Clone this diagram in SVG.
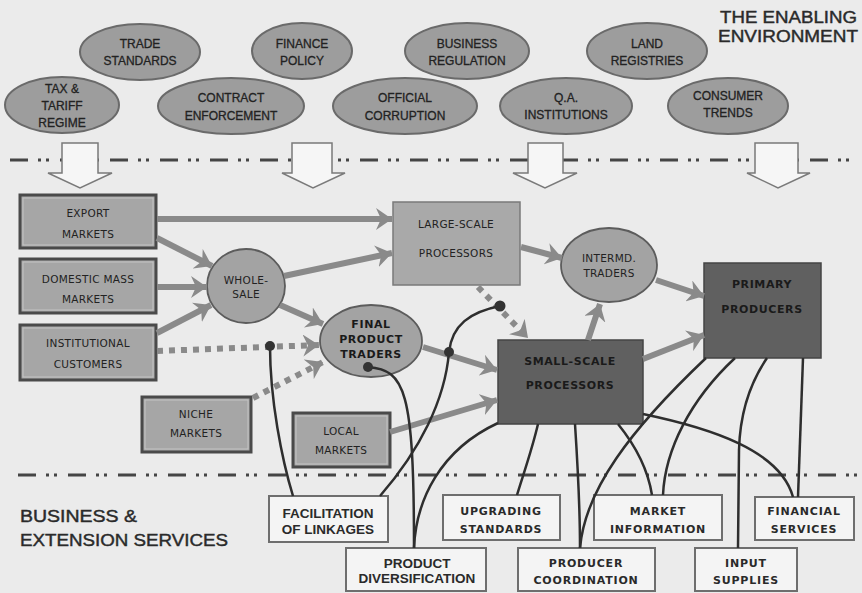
<svg xmlns="http://www.w3.org/2000/svg" width="862" height="593" viewBox="0 0 862 593">
<defs>
<marker id="ah" markerUnits="userSpaceOnUse" markerWidth="18" markerHeight="22" refX="16" refY="11" orient="auto" viewBox="0 0 18 22">
<path d="M0,0 L16,11 L0,22 L5,11 Z" fill="#8a8a8a"/>
</marker>
<style>
.sep{stroke:#454545;stroke-width:3;fill:none;stroke-dasharray:18 10 3 5 3 11}
.hollow{fill:#f6f6f6;stroke:#7a7a7a;stroke-width:1.5}
.env{fill:#9d9d9d;stroke:#6a6a6a;stroke-width:2}
.envt{font-family:"Liberation Sans",Arial,sans-serif;font-size:12px;fill:#222;stroke:#222;stroke-width:0.3;text-anchor:middle}
.mk{fill:#a6a6a6;stroke:#4a4a4a;stroke-width:3}
.mki{fill:none;stroke:#c4c4c4;stroke-width:1}
.lt{font-family:"DejaVu Sans",Verdana,sans-serif;font-size:10.5px;fill:#222;text-anchor:middle;letter-spacing:0.3px}
.bt{font-family:"DejaVu Sans",Verdana,sans-serif;font-size:11px;font-weight:bold;fill:#1a1a1a;text-anchor:middle;letter-spacing:0.6px}
.oval{fill:#a3a3a3;stroke:#5c5c5c;stroke-width:1.8}
.dark{fill:#606060;stroke:#444;stroke-width:1.5}
.svc{fill:#f4f4f4;stroke:#6e6e6e;stroke-width:2}
.sa{font-family:"Liberation Sans",Arial,sans-serif;font-size:13.5px;font-weight:bold;fill:#2a2a2a;text-anchor:middle}
.sv{font-family:"DejaVu Sans",Verdana,sans-serif;font-size:11px;font-weight:bold;fill:#2a2a2a;text-anchor:middle;letter-spacing:0.8px}
.thick{stroke:#8a8a8a;stroke-width:6;fill:none;marker-end:url(#ah)}
.dot{stroke:#8a8a8a;stroke-width:6;fill:none;stroke-dasharray:6 6;marker-end:url(#ah)}
.thin{stroke:#2e2e2e;stroke-width:2.5;fill:none}
.jn{fill:#333}
.title{font-family:"Liberation Sans",Arial,sans-serif;font-size:16px;fill:#2a2a2a;stroke:#2a2a2a;stroke-width:0.4}
</style>
</defs>
<rect width="862" height="593" fill="#ebebeb"/>

<g id="separators">
<line class="sep" x1="10" y1="160" x2="852" y2="160"/>
<line class="sep" x1="18" y1="475" x2="862" y2="475"/>
</g>
<g id="enabling-arrows">
<path class="hollow" d="M62,143 L98,143 L98,173 L112,173 L80,188 L48,173 L62,173 Z"/>
<path class="hollow" d="M292,143 L332,143 L332,173 L345,173 L313,188 L282,173 L292,173 Z"/>
<path class="hollow" d="M528,143 L563,143 L563,173 L577,173 L545,188 L513,173 L528,173 Z"/>
<path class="hollow" d="M755,143 L798,143 L798,173 L810,173 L778,188 L747,173 L755,173 Z"/>
</g>

<g id="title">
<text class="title" x="720" y="23" textLength="137" lengthAdjust="spacingAndGlyphs">THE ENABLING</text>
<text class="title" x="718" y="42" textLength="140" lengthAdjust="spacingAndGlyphs">ENVIRONMENT</text>
</g>

<g id="trade-standards"><ellipse class="env" cx="140" cy="52" rx="60" ry="28"/><text class="envt" x="140" y="48">TRADE</text><text class="envt" x="140" y="65">STANDARDS</text></g>
<g id="tax-tariff"><ellipse class="env" cx="62" cy="105" rx="57" ry="28"/><text class="envt" x="62" y="93">TAX &amp;</text><text class="envt" x="62" y="110">TARIFF</text><text class="envt" x="62" y="127">REGIME</text></g>
<g id="finance-policy"><ellipse class="env" cx="302" cy="51" rx="50" ry="28"/><text class="envt" x="302" y="48">FINANCE</text><text class="envt" x="302" y="65">POLICY</text></g>
<g id="contract-enforcement"><ellipse class="env" cx="231" cy="106" rx="73" ry="28"/><text class="envt" x="231" y="102">CONTRACT</text><text class="envt" x="231" y="120">ENFORCEMENT</text></g>
<g id="business-regulation"><ellipse class="env" cx="467" cy="51" rx="62" ry="28"/><text class="envt" x="467" y="48">BUSINESS</text><text class="envt" x="467" y="65">REGULATION</text></g>
<g id="official-corruption"><ellipse class="env" cx="405" cy="106" rx="72" ry="28"/><text class="envt" x="405" y="102">OFFICIAL</text><text class="envt" x="405" y="120">CORRUPTION</text></g>
<g id="land-registries"><ellipse class="env" cx="647" cy="51" rx="60" ry="28"/><text class="envt" x="647" y="48">LAND</text><text class="envt" x="647" y="65">REGISTRIES</text></g>
<g id="qa-institutions"><ellipse class="env" cx="566" cy="106" rx="66" ry="28"/><text class="envt" x="566" y="102">Q.A.</text><text class="envt" x="566" y="119">INSTITUTIONS</text></g>
<g id="consumer-trends"><ellipse class="env" cx="728" cy="106" rx="60" ry="28"/><text class="envt" x="728" y="100">CONSUMER</text><text class="envt" x="728" y="117">TRENDS</text></g>

<g id="export-markets"><rect class="mk" x="20" y="195" width="136" height="53"/><rect class="mki" x="23" y="198" width="130" height="47"/><text class="lt" x="88" y="217">EXPORT</text><text class="lt" x="88" y="238">MARKETS</text></g>
<g id="domestic-mass-markets"><rect class="mk" x="20" y="259" width="136" height="54"/><rect class="mki" x="23" y="262" width="130" height="48"/><text class="lt" x="88" y="283">DOMESTIC MASS</text><text class="lt" x="88" y="303">MARKETS</text></g>
<g id="institutional-customers"><rect class="mk" x="20" y="325" width="136" height="55"/><rect class="mki" x="23" y="328" width="130" height="49"/><text class="lt" x="88" y="347">INSTITUTIONAL</text><text class="lt" x="88" y="368">CUSTOMERS</text></g>
<g id="niche-markets"><rect class="mk" x="142" y="397" width="109" height="55"/><rect class="mki" x="145" y="400" width="103" height="49"/><text class="lt" x="196" y="418">NICHE</text><text class="lt" x="196" y="437">MARKETS</text></g>
<g id="local-markets"><rect class="mk" x="293" y="413" width="97" height="54"/><rect class="mki" x="296" y="416" width="91" height="48"/><text class="lt" x="341" y="435">LOCAL</text><text class="lt" x="341" y="454">MARKETS</text></g>

<g id="wholesale"><ellipse class="oval" cx="246" cy="286" rx="39" ry="37"/><text class="lt" x="246" y="284">WHOLE-</text><text class="lt" x="246" y="298">SALE</text></g>
<g id="final-product-traders"><ellipse class="oval" cx="371" cy="341" rx="51" ry="36"/><text class="bt" x="371" y="328">FINAL</text><text class="bt" x="371" y="343">PRODUCT</text><text class="bt" x="371" y="358">TRADERS</text></g>
<g id="large-scale-processors"><rect x="393" y="202" width="127" height="83" fill="#a9a9a9" stroke="#7a7a7a" stroke-width="1.5"/><text class="lt" x="456" y="228">LARGE-SCALE</text><text class="lt" x="456" y="257">PROCESSORS</text></g>
<g id="intermd-traders"><ellipse class="oval" cx="609" cy="265" rx="48" ry="37"/><text class="lt" x="609" y="262">INTERMD.</text><text class="lt" x="609" y="277">TRADERS</text></g>
<g id="primary-producers"><rect class="dark" x="704" y="263" width="117" height="95"/><text class="bt" x="762" y="288">PRIMARY</text><text class="bt" x="762" y="313">PRODUCERS</text></g>
<g id="small-scale-processors"><rect class="dark" x="498" y="340" width="145" height="84"/><text class="bt" x="570" y="365">SMALL-SCALE</text><text class="bt" x="570" y="389">PROCESSORS</text></g>

<g id="facilitation-of-linkages"><rect class="svc" x="269" y="496" width="119" height="46"/><text class="sa" x="328" y="518">FACILITATION</text><text class="sa" x="328" y="534">OF LINKAGES</text></g>
<g id="product-diversification"><rect class="svc" x="346" y="548" width="140" height="43"/><text class="sa" x="417" y="568">PRODUCT</text><text class="sa" x="417" y="583">DIVERSIFICATION</text></g>
<g id="upgrading-standards"><rect class="svc" x="443" y="495" width="117" height="45"/><text class="sv" x="501" y="515">UPGRADING</text><text class="sv" x="501" y="533">STANDARDS</text></g>
<g id="producer-coordination"><rect class="svc" x="518" y="548" width="137" height="43"/><text class="sv" x="586" y="567">PRODUCER</text><text class="sv" x="586" y="584">COORDINATION</text></g>
<g id="market-information"><rect class="svc" x="594" y="495" width="128" height="45"/><text class="sv" x="658" y="515">MARKET</text><text class="sv" x="658" y="533">INFORMATION</text></g>
<g id="input-supplies"><rect class="svc" x="695" y="548" width="102" height="43"/><text class="sv" x="746" y="567">INPUT</text><text class="sv" x="746" y="584">SUPPLIES</text></g>
<g id="financial-services"><rect class="svc" x="755" y="497" width="99" height="43"/><text class="sv" x="804" y="515">FINANCIAL</text><text class="sv" x="804" y="533">SERVICES</text></g>

<g id="services-label">
<text class="title" x="20" y="522" textLength="117" lengthAdjust="spacingAndGlyphs">BUSINESS &amp;</text>
<text class="title" x="20" y="546" textLength="208" lengthAdjust="spacingAndGlyphs">EXTENSION SERVICES</text>
</g>

<g id="connectors">
<path class="thick" d="M157,219 L392,219"/>
<path class="thick" d="M157,238 L212,266"/>
<path class="thick" d="M157,287 L207,287"/>
<path class="thick" d="M157,333 L211,305"/>
<path class="thick" d="M284,276 L392,253"/>
<path class="thick" d="M280,305 L323,324"/>
<path class="dot" d="M157,351 L319,345"/>
<path class="dot" d="M253,398 L323,362"/>
<path class="thick" d="M521,247 L562,258"/>
<path class="dot" d="M478,287 L528,338"/>
<path class="thick" d="M656,280 L704,296"/>
<path class="thick" d="M588,340 L600,304"/>
<path class="thick" d="M643,359 L704,335"/>
<path class="thick" d="M423,347 L497,370"/>
<path class="thick" d="M390,432 L497,400"/>

<path class="thin" d="M270,346 C270,400 282,460 293,496"/>
<path class="thin" d="M500,306 C470,312 452,325 449,352 C445,400 420,450 380,496"/>
<path class="thin" d="M368,367 C405,370 414,390 414,548"/>
<path class="thin" d="M498,423 C440,450 416,500 414,548"/>
<path class="thin" d="M538,424 C532,450 523,475 517,495"/>
<path class="thin" d="M575,424 C578,470 580,510 580,548"/>
<path class="thin" d="M580,548 C585,490 630,430 706,358"/>
<path class="thin" d="M618,424 C635,445 648,470 652,495"/>
<path class="thin" d="M663,495 C665,450 690,400 735,358"/>
<path class="thin" d="M738,548 L739,450 C740,410 752,380 767,358"/>
<path class="thin" d="M803,358 L798,497"/>
<path class="thin" d="M643,414 C710,428 780,450 793,497"/>

<circle class="jn" cx="270" cy="346" r="5"/>
<circle class="jn" cx="368" cy="367" r="5"/>
<circle class="jn" cx="449" cy="352" r="5"/>
<circle class="jn" cx="500" cy="306" r="5.5"/>
</g>
</svg>
